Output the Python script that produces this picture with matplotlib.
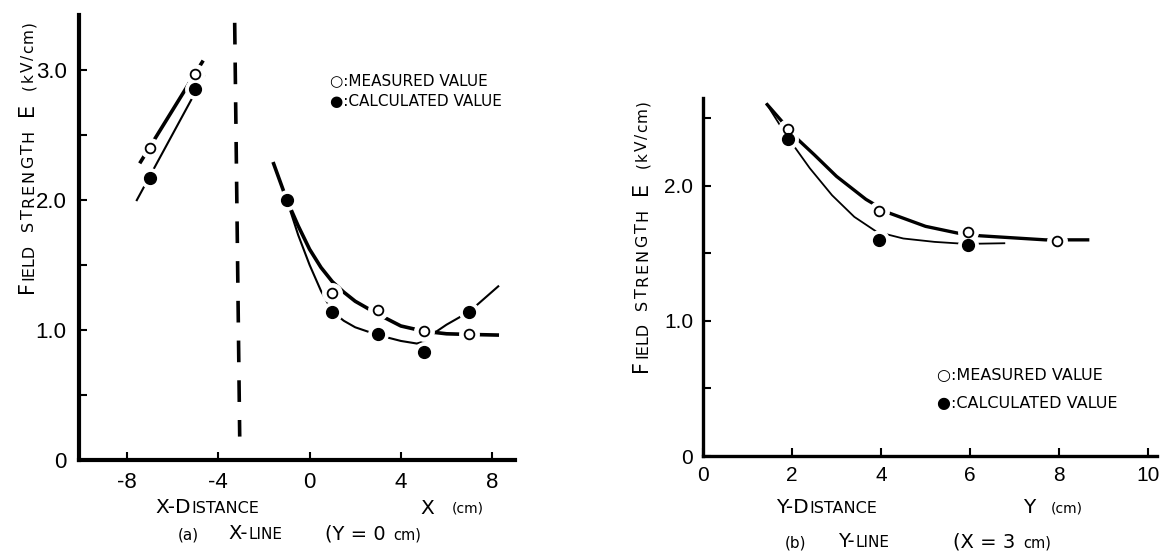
import matplotlib
matplotlib.use('Agg')
import matplotlib.pyplot as plt

W, H = 1166, 554

# (a) X-line, Y = 0 cm
xa_meas = [-7, -5, 1, 3, 5, 7]
Ea_meas = [2.40, 2.97, 1.28, 1.15, 0.99, 0.97]
xa_calc = [-7, -5, -1, 1, 3, 5, 7]
Ea_calc = [2.17, 2.85, 2.00, 1.14, 0.97, 0.83, 1.14]

# hand drawn curves of (a)
xa_mc1 = [-7.44, -4.66]
Ea_mc1 = [2.28, 3.07]
xa_cc1 = [-7.59, -4.59]
Ea_cc1 = [1.99, 2.96]
xa_mc2 = [-1.6, -1.0, -0.5, 0.0, 0.5, 1.0, 1.5, 2.0, 3.0, 4.0, 5.0, 6.0, 7.0, 8.3]
Ea_mc2 = [2.29, 2.00, 1.80, 1.62, 1.48, 1.37, 1.29, 1.22, 1.12, 1.03, 0.99, 0.97, 0.965, 0.96]
xa_cc2 = [-1.0, -0.5, 0.0, 0.5, 1.0, 1.5, 2.0, 3.0, 4.0, 4.7, 5.0, 5.2, 6.0, 7.0, 8.3]
Ea_cc2 = [2.00, 1.73, 1.50, 1.30, 1.14, 1.07, 1.02, 0.96, 0.915, 0.895, 0.91, 0.945, 1.04, 1.14, 1.34]
# electrode edge (dashed vertical)
xa_edge = [-3.28, -3.06]
Ea_edge = [3.36, 0.18]

# (b) Y-line, X = 3 cm
yb_meas = [1.9, 3.95, 5.95, 7.95]
Eb_meas = [2.42, 1.81, 1.66, 1.59]
yb_calc = [1.9, 3.95, 5.95]
Eb_calc = [2.35, 1.60, 1.56]
yb_mc = [1.42, 2.11, 2.5, 3.0, 3.66, 4.17, 5.0, 5.72, 6.23, 7.69, 8.68]
Eb_mc = [2.61, 2.35, 2.23, 2.07, 1.90, 1.80, 1.70, 1.65, 1.63, 1.60, 1.60]
yb_cc = [1.42, 1.9, 2.4, 2.9, 3.4, 3.9, 4.5, 5.2, 5.9, 6.79]
Eb_cc = [2.61, 2.36, 2.13, 1.93, 1.77, 1.66, 1.61, 1.585, 1.57, 1.575]

tickfont = ['Liberation Sans', 'DejaVu Sans']
plt.rcParams['font.family'] = ['DejaVu Sans']

fig = plt.figure(figsize=(W / 100, H / 100), dpi=100)
axL = fig.add_axes([79 / W, 1 - 460 / H, (515 - 79) / W, (460 - 15) / H])
axR = fig.add_axes([703 / W, 1 - 456 / H, (1157 - 703) / W, (456 - 98) / H])


def style(ax, lw, pad):
    for s in ['top', 'right']:
        ax.spines[s].set_visible(False)
    for s in ['left', 'bottom']:
        ax.spines[s].set_linewidth(lw)
    ax.tick_params(direction='in', length=6, width=1.5, pad=pad)


def points(ax, xm, ym, xc, yc, ms):
    # white halo breaks the curves around the points
    ax.plot(xm, ym, 'o', ms=ms + 7, color='white', zorder=3)
    ax.plot(xc, yc, 'o', ms=ms + 7, color='white', zorder=3)
    ax.plot(xm, ym, 'o', ms=ms, mfc='white', mec='black', mew=1.3, zorder=4)
    ax.plot(xc, yc, 'o', ms=ms + 1.5, color='black', zorder=4)


# ---- (a)
style(axL, 3, 9)
axL.plot(xa_mc1, Ea_mc1, color='black', lw=2.6, solid_capstyle='butt')
axL.plot(xa_cc1, Ea_cc1, color='black', lw=1.5, solid_capstyle='butt')
axL.plot(xa_mc2, Ea_mc2, color='black', lw=2.6, solid_capstyle='butt')
axL.plot(xa_cc2, Ea_cc2, color='black', lw=1.5, solid_capstyle='butt')
axL.plot(xa_edge, Ea_edge, color='black', lw=2.6, dashes=(6, 5))
points(axL, xa_meas, Ea_meas, xa_calc, Ea_calc, 7)
axL.set_xlim(-10.1, 9.0)
axL.set_ylim(0, 3.42)
axL.set_xticks([-8, -4, 0, 4, 8])
axL.set_xticklabels(['-8', '-4', '0', '4', '8'], fontsize=16, family=tickfont)
axL.set_yticks([0, 0.5, 1, 1.5, 2, 2.5, 3])
axL.set_yticklabels(['0', '', '1.0', '', '2.0', '', '3.0'], fontsize=16, family=tickfont)

# ---- (b)
style(axR, 2.4, 7)
axR.plot(yb_mc, Eb_mc, color='black', lw=2.4, solid_capstyle='butt')
axR.plot(yb_cc, Eb_cc, color='black', lw=1.3, solid_capstyle='butt')
points(axR, yb_meas, Eb_meas, yb_calc, Eb_calc, 7)
axR.set_xlim(0, 10.2)
axR.set_ylim(0, 2.65)
axR.set_xticks([0, 2, 4, 6, 8, 10])
axR.set_xticklabels(['0', '2', '4', '6', '8', '10'], fontsize=15, family=tickfont)
axR.set_yticks([0, 0.5, 1, 1.5, 2, 2.5])
axR.set_yticklabels(['0', '', '1.0', '', '2.0', ''], fontsize=15, family=tickfont)

# ---- texts (small caps built from pieces)
rend = fig.canvas.get_renderer()


def put(x, y, pieces, rot=0):
    # x, y: start of baseline in image pixels (y from top)
    for s, size, gap in pieces:
        t = fig.text(x / W, 1 - y / H, s, fontsize=size, rotation=rot,
                     rotation_mode='anchor', ha='left', va='baseline')
        bb = t.get_window_extent(rend)
        if rot == 0:
            x += bb.width + gap
        else:
            y -= bb.height + gap


def spaced(s, size, sp, gap):
    out = [(c, size, sp) for c in s]
    out[-1] = (s[-1], size, gap)
    return out


def ylabel(x, y):
    p = [('F', 15, 1.5), ('IELD', 11.5, 12)]
    p += spaced('STRENGTH', 11.5, 2, 14)
    p += [('E', 15, 13)]
    p += spaced('(kV/cm)', 11, 1.5, 0)
    put(x, y, p, rot=90)


ylabel(33, 293)
ylabel(647, 372)

put(155, 513, [('X-D', 14.5, 0.5), ('ISTANCE', 11.5, 0)])
put(420, 514, [('X', 14.5, 0)])
put(452, 512, [('(cm)', 10, 0)])
put(178, 539, [('(a)', 11, 0)])
put(228, 539, [('X-', 14, 0.5), ('LINE', 11, 0)])
put(325, 539, [('(Y = 0', 14, 8), ('cm)', 10.5, 0)])

put(776, 513, [('Y-D', 14.5, 0.5), ('ISTANCE', 11.5, 0)])
put(1023, 513, [('Y', 14.5, 0)])
put(1051, 512, [('(cm)', 10, 0)])
put(785, 547, [('(b)', 11, 0)])
put(838, 547, [('Y-', 14, 0.5), ('LINE', 11, 0)])
put(953, 547, [('(X = 3', 14, 8), ('cm)', 10.5, 0)])

put(330, 85, [('○:MEASURED VALUE', 11, 0)])
put(330, 106, [('●:CALCULATED VALUE', 11, 0)])
put(937, 380, [('○:MEASURED VALUE', 11.5, 0)])
put(937, 408, [('●:CALCULATED VALUE', 11.5, 0)])

fig.savefig('out.png', dpi=100)
